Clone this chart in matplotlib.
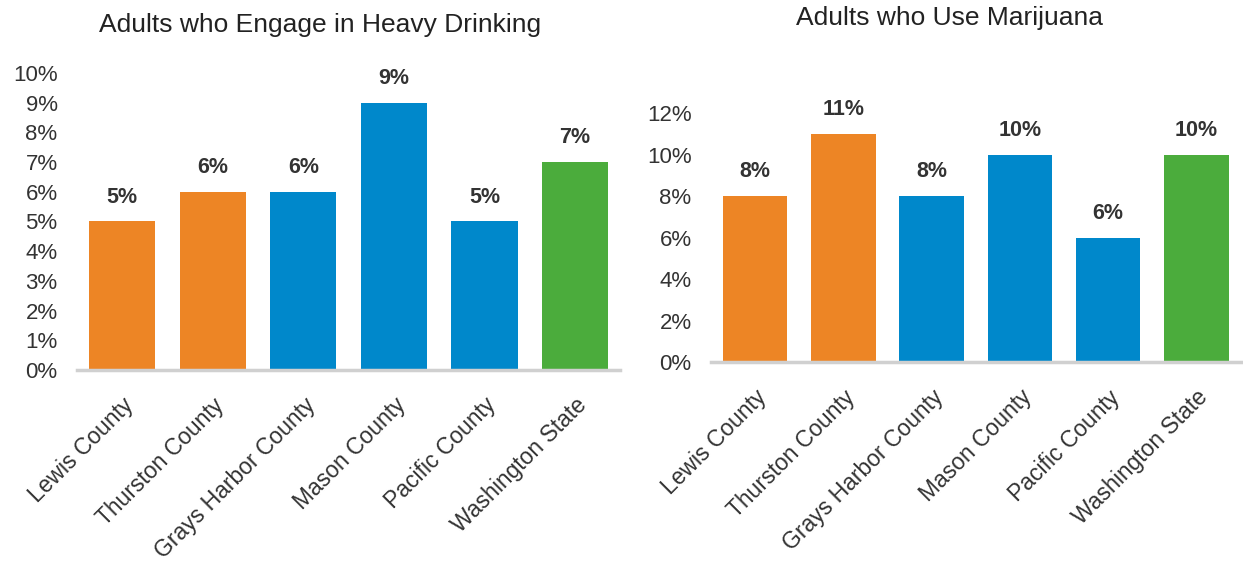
import matplotlib.pyplot as plt
import numpy as np
from matplotlib.ticker import PercentFormatter

plt.rcParams['font.family'] = ['Liberation Sans', 'DejaVu Sans']

#### data
places = ['Lewis County', 'Thurston County', 'Grays Harbor County',
          'Mason County', 'Pacific County', 'Washington State']
drinking = [5, 6, 6, 9, 5, 7]
marijuana = [8, 11, 8, 10, 6, 10]
bar_colors = ['#ED8525', '#ED8525', '#0088CB', '#0088CB', '#0088CB', '#4BAC3C']

fig = plt.figure(figsize=(12.43, 5.65), dpi=100)

def draw(ax, vals, ymax, step):
    x = np.arange(len(places))
    ax.bar(x, vals, width=0.73, color=bar_colors)
    ax.set_xlim(-0.5, len(places) - 0.5)
    ax.set_ylim(0, ymax)
    ax.set_yticks(np.arange(0, ymax + 0.1, step))
    ax.yaxis.set_major_formatter(PercentFormatter(decimals=0))
    ax.set_xticks(x)
    ax.set_xticklabels(places, rotation=45, ha='right', rotation_mode='anchor',
                       fontsize=16.5, color='#333333')
    ax.tick_params(axis='y', labelsize=16, labelcolor='#333333', length=0, pad=14)
    ax.tick_params(axis='x', length=0, pad=17)
    for s in ['top', 'right', 'left']:
        ax.spines[s].set_visible(False)
    ax.spines['bottom'].set_color('#d0d0d0')
    ax.spines['bottom'].set_linewidth(2.5)
    for xi, v in zip(x, vals):
        ax.annotate(f'{v}%', (xi, v), xytext=(0, 10), textcoords='offset points',
                    ha='center', va='bottom', fontsize=15.5, fontweight='bold',
                    color='#333333')

ax1 = fig.add_axes([0.062, 0.345, 0.437, 0.526])
draw(ax1, drinking, 10, 1)
ax2 = fig.add_axes([0.572, 0.359, 0.426, 0.441])
draw(ax2, marijuana, 12, 2)

fig.text(320 / 1243, 1 - 25 / 565, 'Adults who Engage in Heavy Drinking',
         ha='center', va='center', fontsize=19, color='#222222')
fig.text(950 / 1243, 1 - 18 / 565, 'Adults who Use Marijuana',
         ha='center', va='center', fontsize=19, color='#222222')

plt.savefig('out.png', dpi=100)
